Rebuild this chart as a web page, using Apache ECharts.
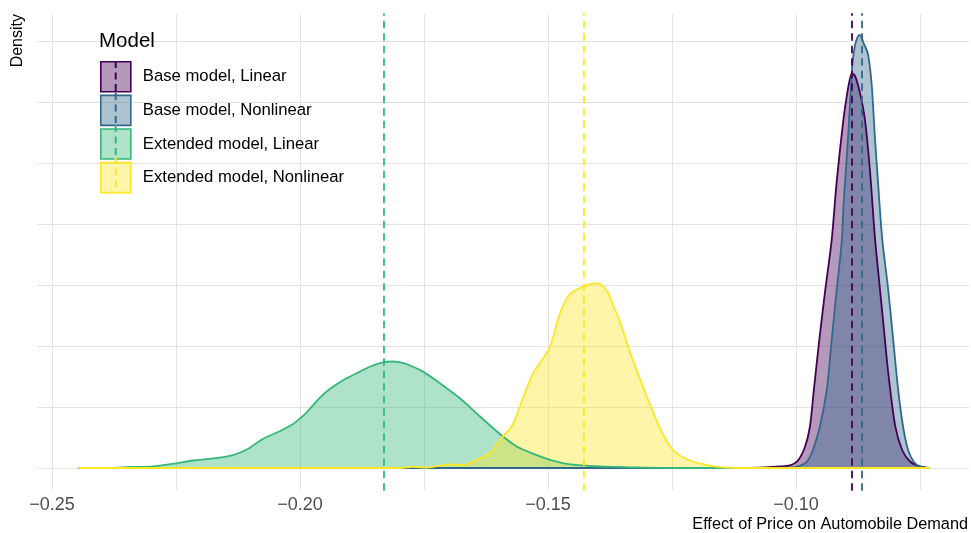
<!DOCTYPE html>
<html>
<head>
<meta charset="utf-8">
<script src="https://cdn.jsdelivr.net/npm/echarts@6/dist/echarts.min.js"></script>
<style>
  html, body { margin: 0; padding: 0; background: #ffffff; }
  #chart { width: 971px; height: 533px; }
</style>
</head>
<body>
<div id="chart"></div>
<script>
// ---- data ----
const seriesNames = ['Base model, Linear', 'Base model, Nonlinear', 'Extended model, Linear', 'Extended model, Nonlinear'];
const lineColors = ['#440154', '#31688E', '#35B779', '#FDE725'];
const fillColors = ['rgba(68,1,84,0.4)', 'rgba(49,104,142,0.4)', 'rgba(53,183,121,0.4)', 'rgba(253,231,37,0.4)'];

const baseLinearX = [-0.2446, -0.1194, -0.1113, -0.1063, -0.1032, -0.1012, -0.0996, -0.0982, -0.0972, -0.0964, -0.0953, -0.0941, -0.0928, -0.0918, -0.0905, -0.0897, -0.0891, -0.0887, -0.0881, -0.0871, -0.0861, -0.0851, -0.0841, -0.0834, -0.0824, -0.0814, -0.0800, -0.0786, -0.0770, -0.0750, -0.0730];
const baseLinearY = [0, 0, 0.03, 0.11, 0.25, 0.44, 1.23, 3.44, 6.72, 12.8, 21.0, 29.2, 37.4, 46.9, 56.7, 61.3, 63.9, 64.7, 64.3, 61.5, 57.1, 48.9, 37.9, 32.0, 23.8, 15.6, 6.9, 2.95, 1.07, 0.25, 0];

const baseNonlinearX = [-0.2446, -0.1073, -0.1032, -0.0998, -0.0978, -0.0966, -0.0952, -0.0938, -0.0928, -0.0918, -0.0908, -0.0904, -0.0897, -0.0891, -0.0886, -0.0881, -0.0876, -0.0872, -0.0868, -0.0864, -0.0856, -0.0852, -0.0847, -0.0841, -0.0834, -0.0826, -0.0814, -0.0804, -0.0794, -0.0784, -0.0774, -0.0760, -0.0744, -0.0730];
const baseNonlinearY = [0, 0, 0.03, 0.21, 1.03, 2.95, 6.72, 12.8, 21.0, 29.2, 36.9, 43.4, 51.6, 59.8, 66.4, 69.3, 70.6, 71.0, 70.6, 69.7, 68.2, 66.4, 62.5, 54.3, 46.1, 37.4, 29.2, 21.0, 12.8, 6.72, 2.95, 0.77, 0.08, 0];

const extLinearX = [-0.2446, -0.2383, -0.2343, -0.2296, -0.2256, -0.2216, -0.2175, -0.2135, -0.2107, -0.2075, -0.2040, -0.2014, -0.2000, -0.1986, -0.1960, -0.1940, -0.1913, -0.1889, -0.1859, -0.1833, -0.1815, -0.1798, -0.1778, -0.1752, -0.1718, -0.1677, -0.1637, -0.1597, -0.1563, -0.1536, -0.1502, -0.1462, -0.1415, -0.1355, -0.1315, -0.1234, -0.0730];
const extLinearY = [0, 0, 0.16, 0.28, 0.70, 1.23, 1.56, 2.13, 3.03, 4.75, 6.07, 7.21, 8.11, 9.18, 11.5, 12.95, 14.4, 15.4, 16.6, 17.3, 17.46, 17.3, 16.8, 15.8, 13.9, 11.4, 8.44, 5.57, 3.52, 2.54, 1.48, 0.66, 0.33, 0.16, 0.08, 0, 0];

const extNonlinearX = [-0.2446, -0.1798, -0.1772, -0.1744, -0.1698, -0.1671, -0.1643, -0.1617, -0.1597, -0.1571, -0.1550, -0.1530, -0.1510, -0.1496, -0.1476, -0.1456, -0.1429, -0.1401, -0.1381, -0.1369, -0.1355, -0.1329, -0.1300, -0.1274, -0.1248, -0.1214, -0.1179, -0.1147, -0.1103, -0.0730];
const extNonlinearY = [0, 0, 0.20, 0.05, 0.61, 0.49, 1.39, 2.46, 4.59, 7.13, 11.6, 15.5, 17.95, 19.8, 25.3, 28.5, 29.75, 30.3, 29.0, 26.7, 24.0, 17.7, 11.6, 6.48, 2.95, 1.23, 0.49, 0.11, 0, 0];

const meanValues = [-0.0887, -0.0868, -0.1832, -0.1427];

const xGridValues = [-0.25, -0.225, -0.2, -0.175, -0.15, -0.125, -0.1, -0.075];
const xLabelValues = [-0.25, -0.2, -0.15, -0.1];
const yGridValues = [0, 10, 20, 30, 40, 50, 60, 70];

const xAxisTitle = 'Effect of Price on Automobile Demand';
const yAxisTitle = 'Density';
const legendTitle = 'Model';

// ---- build ----
const allX = [baseLinearX, baseNonlinearX, extLinearX, extNonlinearX];
const allY = [baseLinearY, baseNonlinearY, extLinearY, extNonlinearY];

const series = seriesNames.map((name, i) => ({
  name: name,
  type: 'line',
  data: allX[i].map((x, j) => [x, allY[i][j]]),
  showSymbol: false,
  symbol: 'none',
  smooth: 0.3,
  lineStyle: { color: lineColors[i], width: 1.8 },
  itemStyle: { color: lineColors[i] },
  areaStyle: { color: fillColors[i], opacity: 1, origin: 0 },
  z: 2,
  markLine: {
    silent: true,
    symbol: 'none',
    precision: 6,
    label: { show: false },
    emphasis: { disabled: true },
    animation: false,
    lineStyle: { color: lineColors[i], width: 1.8, type: [6, 6.5], cap: 'round' },
    data: [{ xAxis: meanValues[i] }]
  }
}));

const fmt = v => (v < 0 ? '\u2212' : '') + Math.abs(v).toFixed(2);

const chart = echarts.init(document.getElementById('chart'), null, { renderer: 'canvas' });
chart.setOption({
  animation: false,
  backgroundColor: '#ffffff',
  textStyle: { fontFamily: 'Liberation Sans, Arial, sans-serif' },
  grid: { left: 37, right: 2, top: 14, bottom: 43, containLabel: false },
  xAxis: {
    type: 'value',
    min: -0.25302,
    max: -0.06512,
    axisLine: { show: false },
    axisTick: { show: false, customValues: xGridValues },
    axisLabel: {
      customValues: xLabelValues,
      formatter: fmt,
      color: '#4d4d4d',
      fontSize: 18,
      margin: 6,
      fontFamily: 'Liberation Sans, Arial, sans-serif'
    },
    splitLine: { show: true, lineStyle: { color: '#e3e3e3', width: 1 } }
  },
  yAxis: {
    type: 'value',
    min: -3.607,
    max: 74.43,
    axisLine: { show: false },
    axisTick: { show: false, customValues: yGridValues },
    axisLabel: { show: false, customValues: yGridValues },
    splitLine: { show: true, lineStyle: { color: '#e3e3e3', width: 1 } }
  },
  title: {
    text: legendTitle,
    left: 99,
    top: 31,
    padding: 0,
    textStyle: { fontSize: 20.5, fontWeight: 'normal', color: '#000000', fontFamily: 'Liberation Sans, Arial, sans-serif' }
  },
  legend: [{
    orient: 'vertical',
    left: 100,
    top: 61,
    padding: 0,
    itemWidth: 30,
    itemHeight: 30,
    itemGap: 2,
    icon: 'rect',
    selectedMode: false,
    textStyle: { fontSize: 16.7, color: '#000000', padding: [2, 0, 0, 7], fontFamily: 'Liberation Sans, Arial, sans-serif' },
    data: seriesNames.map((n, i) => ({
      name: n,
      itemStyle: { color: fillColors[i], borderColor: lineColors[i], borderWidth: 1.6 }
    }))
  }, {
    orient: 'vertical',
    left: 114.7,
    top: 61,
    padding: 0,
    itemWidth: 2,
    itemHeight: 30,
    itemGap: 2,
    selectedMode: false,
    icon: 'path://M0,0h2v7h-2z M0,11.5h2v7h-2z M0,23h2v7h-2z',
    formatter: () => '',
    data: seriesNames.map((n, i) => ({
      name: n,
      itemStyle: { color: lineColors[i], borderWidth: 0 }
    }))
  }],
  graphic: [
    {
      type: 'text',
      x: 18,
      y: 14,
      rotation: Math.PI / 2,
      silent: true,
      style: {
        text: yAxisTitle,
        fontSize: 16,
        fill: '#000000',
        align: 'right',
        verticalAlign: 'middle',
        fontFamily: 'Liberation Sans, Arial, sans-serif'
      }
    },
    {
      type: 'text',
      x: 968,
      y: 525,
      silent: true,
      style: {
        text: xAxisTitle,
        fontSize: 16.3,
        fill: '#000000',
        align: 'right',
        verticalAlign: 'middle',
        fontFamily: 'Liberation Sans, Arial, sans-serif'
      }
    }
  ],
  series: series
});
</script>
</body>
</html>
